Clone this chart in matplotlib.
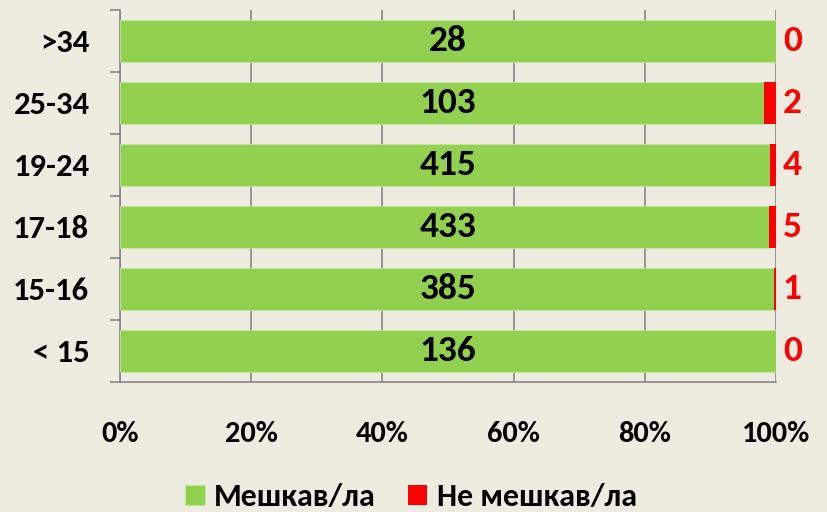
import matplotlib
matplotlib.use("Agg")
import matplotlib.pyplot as plt
from matplotlib import font_manager
import numpy as np

categories = ["< 15", "15-16", "17-18", "19-24", "25-34", ">34"]
employed = [136, 385, 433, 415, 103, 28]
unemployed = [0, 1, 5, 4, 2, 0]
series_names = ["Мешкав/ла", "Не мешкав/ла"]
xtick_labels = ["0%", "20%", "40%", "60%", "80%", "100%"]

available = {f.name for f in font_manager.fontManager.ttflist}
narrow = [n for n in ["Carlito", "Liberation Sans Narrow"] if n in available]
FONT = narrow + ["Liberation Sans", "DejaVu Sans"]
is_narrow = bool(narrow)
plt.rcParams['font.family'] = FONT
plt.rcParams['font.weight'] = 'bold'

k = 1.12 if is_narrow else 1.0
fs_val = 24 * k
fs_y = 21 * k
fs_x = 19.5 * k
fs_leg = 20.5 * k

bg = "#EEEBE1"
green = "#92D050"
red = "#FF0000"
gridc = "#868686"

fig = plt.figure(figsize=(8.27, 5.12), dpi=100, facecolor=bg)
ax = fig.add_axes([120/827, 1-382/512, (776-120)/827, (382-10)/512])
ax.set_facecolor(bg)

emp = np.array(employed, float)
une = np.array(unemployed, float)
tot = emp + une
pe = emp / tot
pu = une / tot
y = np.arange(len(categories))

ax.barh(y, pe, height=0.68, color=green, edgecolor="#C8E6A0", linewidth=0.6, label=series_names[0], zorder=3)
ax.barh(y, pu, left=pe, height=0.68, color=red, label=series_names[1], zorder=3)

for i in range(len(categories)):
    ax.text(0.5, y[i], str(employed[i]), ha='center', va='center', fontsize=fs_val,
            fontweight='bold', color='black', zorder=4)
    ax.text(1.025, y[i], str(unemployed[i]), ha='center', va='center', fontsize=fs_val,
            fontweight='bold', color=red, zorder=4, clip_on=False)

ax.set_xlim(0, 1)
ax.set_ylim(-0.5, len(categories) - 0.5)
ax.set_xticks(np.linspace(0, 1, 6))
ax.set_xticklabels(xtick_labels, fontsize=fs_x, fontweight='bold')
ax.set_yticks(y)
ax.set_yticklabels(categories, fontsize=fs_y, fontweight='bold')
ax.tick_params(axis='y', length=0, pad=22)
ax.tick_params(axis='x', length=0, pad=28)
ax.set_yticks(np.arange(-0.5, len(categories)), minor=True)
ax.tick_params(axis='y', which='minor', length=7, color=gridc, width=1.2)
ax.set_xticks(np.linspace(0, 1, 6), minor=True)
ax.tick_params(axis='x', which='minor', length=7, color=gridc, width=1.2)

ax.grid(axis='x', color=gridc, linewidth=1.2, zorder=0)
for s in ['top', 'right']:
    ax.spines[s].set_visible(False)
for s in ['left', 'bottom']:
    ax.spines[s].set_color(gridc)
    ax.spines[s].set_linewidth(1.2)

leg = fig.legend(loc='center', bbox_to_anchor=(0.497, 1-497/512), ncol=2, frameon=False,
                 prop={'size': fs_leg, 'weight': 'bold'}, handlelength=0.6, handleheight=0.6,
                 handletextpad=0.3, columnspacing=1.0, borderpad=0)

fig.savefig("out.png", dpi=100, facecolor=bg)
